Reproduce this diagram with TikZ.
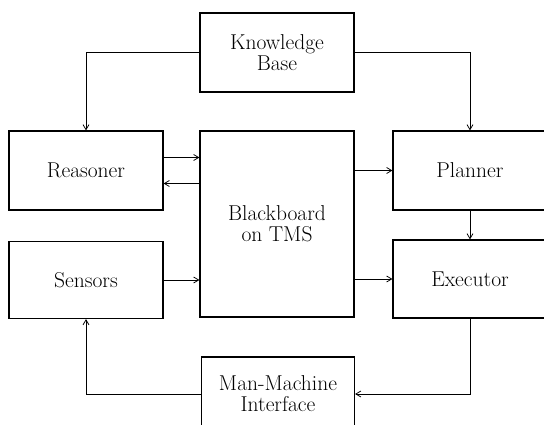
\documentclass[tikz,border=0pt]{standalone}
\usetikzlibrary{arrows.meta}
\begin{document}
\begin{tikzpicture}[x=1pt,y=-1pt,
  blk/.style={draw,line width=1.2pt,inner sep=0pt,align=center,font=\fontsize{21.5}{21}\selectfont},
  arr/.style={line width=0.9pt,-{Straight Barb[length=5pt,width=6pt,line width=0.8pt]}}]
\useasboundingbox (0,0) rectangle (544,425);
\clip (0,0) rectangle (544,425);
\node[blk,minimum width=154pt,minimum height=79pt] (kb) at (277,52.5) {Knowledge\\Base};
\node[blk,minimum width=154pt,minimum height=79pt] (reasoner) at (86,170.5) {Reasoner};
\node[blk,minimum width=154pt,minimum height=186pt] (bb) at (277,224) {Blackboard\\on TMS};
\node[blk,minimum width=154pt,minimum height=79pt] (planner) at (470,170.5) {Planner};
\node[blk,minimum width=154pt,minimum height=77pt] (sensors) at (86,280) {Sensors};
\node[blk,minimum width=154pt,minimum height=78pt] (exec) at (470,279) {Executor};
\node[blk,minimum width=153pt,minimum height=74pt] (mmi) at (278,394) {Man-Machine\\Interface};
\draw[arr] (kb.west) -| (reasoner.north);
\draw[arr] (kb.east) -| (planner.north);
\draw[arr] ([yshift=13pt]reasoner.east) -- ([yshift=13pt]reasoner.east -| bb.west);
\draw[arr] ([yshift=-13pt]reasoner.east -| bb.west) -- ([yshift=-13pt]reasoner.east);
\draw[arr] (planner.west -| bb.east) -- (planner.west);
\draw[arr] (planner.south) -- (exec.north);
\draw[arr] (sensors.east) -- (sensors.east -| bb.west);
\draw[arr] (exec.west -| bb.east) -- (exec.west);
\draw[arr] (exec.south) |- (mmi.east);
\draw[arr] (mmi.west) -| (sensors.south);
\end{tikzpicture}
\end{document}
